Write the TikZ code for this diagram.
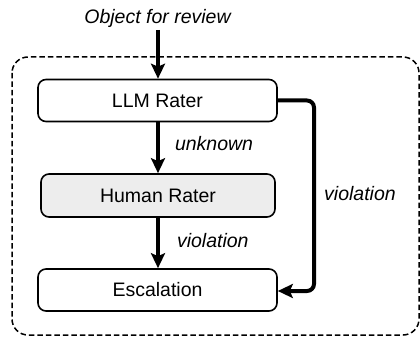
\documentclass[tikz,border=0pt]{standalone}
\usepackage{fontspec}
\setmainfont{Liberation Sans}
\usetikzlibrary{arrows.meta}
\begin{document}
\begin{tikzpicture}[x=1pt,y=-1pt,
  stagebox/.style={draw=black, line width=1.6pt, rounded corners=8pt,
    minimum width=239pt, minimum height=42pt, inner sep=0pt,
    font=\fontsize{19.5}{22}\selectfont},
  flow/.style={line width=4pt, -{Stealth[length=15pt,width=14pt,inset=3pt]}},
  tag/.style={font=\fontsize{19.5}{22}\selectfont\itshape, inner sep=0pt}]
  \useasboundingbox (0,0) rectangle (420,339);
  % dashed frame around the rating pipeline
  \draw[line width=1.5pt, dash pattern=on 5.5pt off 3pt, rounded corners=16pt]
    (12,57) rectangle (419,335);
  % stages
  \node[stagebox] (llm) at (157.5,100.5) {LLM Rater};
  \node[stagebox, fill=black!7, minimum width=234pt, minimum height=43pt] (human) at (158,195.5) {Human Rater};
  \node[stagebox] (esc) at (157.5,290) {Escalation};
  % input
  \node[tag] (obj) at (157.5,18) {Object for review};
  \draw[flow] (158,30) -- (llm.north -| 158,0);
  % vertical flow
  \draw[flow] (llm.south -| 158,0) -- (human.north -| 158,0)
    node[tag, pos=0.42, right=15pt] {unknown};
  \draw[flow] (human.south -| 158,0) -- (esc.north -| 158,0)
    node[tag, pos=0.45, right=17pt] {violation};
  % direct escalation path
  \coordinate (turnA) at (314,100.5);
  \coordinate (turnB) at (314,291);
  \draw[flow, rounded corners=7pt] (llm.east) -- (turnA) -- (turnB) -- (esc.east |- turnB);
  \node[tag] (sidetag) at (360,194) {violation};
\end{tikzpicture}
\end{document}
